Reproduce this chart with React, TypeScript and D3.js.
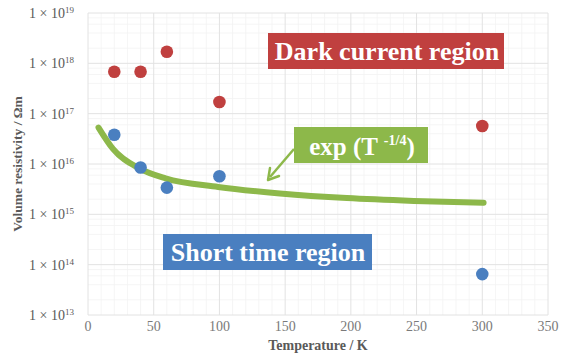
import React, { useEffect, useRef } from 'react';
import * as d3 from 'd3';

// temperature (K) and volume resistivity (Ωm)
const darkTemps = [20, 40, 60, 100, 300];
const darkValues = [6.8e17, 6.8e17, 1.7e18, 1.7e17, 5.7e16];
const shortTemps = [20, 40, 60, 100, 300];
const shortValues = [3.8e16, 8.5e15, 3.4e15, 5.7e15, 6.5e13];
const fitTemps = [8, 19, 39, 59, 99, 146, 197, 248, 301];
const fitValues = [5.3e16, 2.0e16, 8.2e15, 5.2e15, 3.5e15, 2.6e15, 2.1e15, 1.85e15, 1.7e15];
const xTicks = [0, 50, 100, 150, 200, 250, 300, 350];
const yExponents = [13, 14, 15, 16, 17, 18, 19];

const W = 563;
const H = 361;
const SERIF = 'Liberation Serif';

const App = () => {
  const ref = useRef<SVGSVGElement>(null);

  useEffect(() => {
    const svg = d3.select(ref.current);
    svg.selectAll('*').remove();

    const marginLeft = 88;
    const marginRight = 15;
    const marginTop = 13;
    const marginBottom = 46;

    const x = d3.scaleLinear().domain([0, 350]).range([marginLeft, W - marginRight]);
    const y = d3.scaleLog().domain([1e13, 1e19]).range([H - marginBottom, marginTop]);

    svg.append('rect').attr('width', W).attr('height', H).attr('fill', '#fff');

    // minor grid
    const minorX = d3.range(0, 351, 10).filter(v => v % 50 !== 0);
    const minorY: number[] = [];
    yExponents.slice(0, -1).forEach(e => {
      [2, 4, 6, 8].forEach(m => minorY.push(m * Math.pow(10, e)));
    });
    const grid = svg.append('g');
    grid.selectAll('.mx').data(minorX).join('line')
      .attr('x1', d => x(d)).attr('x2', d => x(d))
      .attr('y1', y(1e19)).attr('y2', y(1e13))
      .attr('stroke', '#f3f3f3').attr('stroke-width', 0.8);
    grid.selectAll('.my').data(minorY).join('line')
      .attr('x1', x(0)).attr('x2', x(350))
      .attr('y1', d => y(d)).attr('y2', d => y(d))
      .attr('stroke', '#f3f3f3').attr('stroke-width', 0.8);

    // major grid
    grid.selectAll('.gx').data(xTicks).join('line')
      .attr('x1', d => x(d)).attr('x2', d => x(d))
      .attr('y1', y(1e19)).attr('y2', y(1e13))
      .attr('stroke', '#e2e2e2').attr('stroke-width', 1);
    grid.selectAll('.gy').data(yExponents).join('line')
      .attr('x1', x(0)).attr('x2', x(350))
      .attr('y1', d => y(Math.pow(10, d))).attr('y2', d => y(Math.pow(10, d)))
      .attr('stroke', '#e2e2e2').attr('stroke-width', 1);

    // x tick labels
    svg.append('g').selectAll('text').data(xTicks).join('text')
      .attr('x', d => x(d)).attr('y', H - marginBottom + 16)
      .attr('text-anchor', 'middle')
      .attr('font-family', SERIF).attr('font-size', 14).attr('fill', '#7a7a7a')
      .text(d => d);

    // y tick labels: 1 × 10^n
    const yl = svg.append('g').selectAll('text').data(yExponents).join('text')
      .attr('x', marginLeft - 14).attr('y', d => y(Math.pow(10, d)) + 5)
      .attr('text-anchor', 'end')
      .attr('font-family', SERIF).attr('font-size', 14).attr('fill', '#595959');
    yl.append('tspan').text('1 × 10');
    yl.append('tspan').attr('dy', -5).attr('font-size', 9).text(d => d);

    // axis titles
    svg.append('text')
      .attr('x', x(175)).attr('y', H - 11)
      .attr('text-anchor', 'middle')
      .attr('font-family', SERIF).attr('font-size', 14).attr('font-weight', 'bold').attr('fill', '#595959')
      .text('Temperature / K');
    svg.append('text')
      .attr('transform', `translate(22,${(y(1e19) + y(1e13)) / 2}) rotate(-90)`)
      .attr('text-anchor', 'middle')
      .attr('font-family', SERIF).attr('font-size', 13.5).attr('font-weight', 'bold').attr('fill', '#595959')
      .text('Volume resistivity / Ωm');

    // fit curve
    const line = d3.line<number>()
      .x((_, i) => x(fitTemps[i]))
      .y(d => y(d))
      .curve(d3.curveMonotoneX);
    svg.append('path').datum(fitValues)
      .attr('d', line)
      .attr('fill', 'none').attr('stroke', '#8db84a')
      .attr('stroke-width', 6).attr('stroke-linecap', 'round');

    // points
    svg.append('g').selectAll('circle').data(darkValues).join('circle')
      .attr('cx', (_, i) => x(darkTemps[i])).attr('cy', d => y(d))
      .attr('r', 6.3).attr('fill', '#c0403f');
    svg.append('g').selectAll('circle').data(shortValues).join('circle')
      .attr('cx', (_, i) => x(shortTemps[i])).attr('cy', d => y(d))
      .attr('r', 6.3).attr('fill', '#4a7fc0');

    // annotation boxes
    const box = (bx: number, by: number, bw: number, bh: number, fill: string) => {
      svg.append('rect').attr('x', bx).attr('y', by).attr('width', bw).attr('height', bh).attr('fill', fill);
    };
    box(268, 33, 236, 36, '#c0403f');
    svg.append('text').attr('x', 387).attr('y', 60)
      .attr('text-anchor', 'middle').attr('font-family', SERIF)
      .attr('font-size', 26).attr('font-weight', 'bold').attr('fill', '#fff')
      .text('Dark current region');

    box(163, 234, 209, 36, '#4a7fc0');
    svg.append('text').attr('x', 268).attr('y', 261)
      .attr('text-anchor', 'middle').attr('font-family', SERIF)
      .attr('font-size', 26).attr('font-weight', 'bold').attr('fill', '#fff')
      .text('Short time region');

    box(294, 127, 134, 36, '#8db84a');
    const et = svg.append('text').attr('x', 362).attr('y', 155)
      .attr('text-anchor', 'middle').attr('font-family', SERIF)
      .attr('font-size', 25).attr('font-weight', 'bold').attr('fill', '#fff');
    et.append('tspan').text('exp (T ');
    et.append('tspan').attr('dy', -10).attr('font-size', 14).text('-1/4');
    et.append('tspan').attr('dy', 10).text(')');

    // arrow
    svg.append('line').attr('x1', 294).attr('y1', 149).attr('x2', 270).attr('y2', 177)
      .attr('stroke', '#8db84a').attr('stroke-width', 2.5);
    svg.append('path').attr('d', 'M268,180 L270,168 M268,180 L279,176')
      .attr('stroke', '#8db84a').attr('stroke-width', 2.5).attr('fill', 'none')
      .attr('stroke-linecap', 'round');
  }, []);

  return (
    <div style={{ position: 'absolute', left: 0, top: 0, width: W, height: H }}>
      <svg ref={ref} width={W} height={H} style={{ display: 'block' }} />
    </div>
  );
};

export default App;
